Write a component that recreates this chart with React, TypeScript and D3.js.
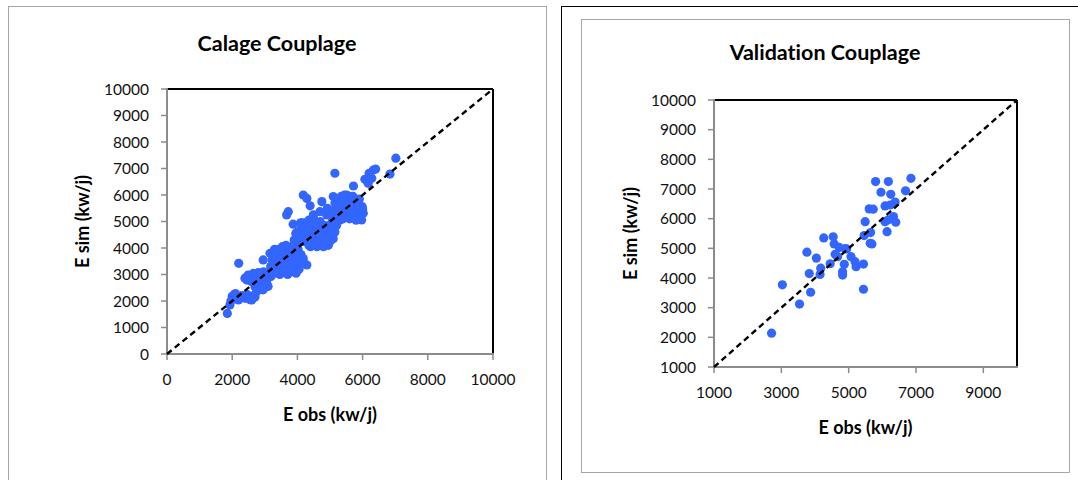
import React from 'react'
import * as d3 from 'd3'

// E obs / E sim pairs (kw/j)
const calagePoints: [number, number][] = [
  [1850, 1530], [1930, 1850], [1960, 2000], [2000, 2180], [2050, 2230], [2100, 2280], [2130, 2150],
  [2190, 2040], [2250, 2100], [2300, 2200], [2350, 2150], [2400, 2100], [2450, 2250], [2500, 2170],
  [2550, 2050], [2600, 2040], [2650, 2200], [2700, 2150], [2200, 3420],
  [2390, 2860], [2450, 2790], [2490, 2980], [2600, 2730], [2650, 3040], [2700, 2540], [2750, 2790],
  [2800, 3070], [2850, 2600], [2900, 2450], [2950, 2420], [2950, 3550], [2960, 3100], [3000, 2700],
  [3060, 2670], [3060, 2920], [3100, 2550], [3100, 3050], [2850, 2900], [2750, 2350],
  [3160, 3800], [3180, 3300], [3190, 2920], [3200, 3150], [3220, 3550], [3250, 3400], [3270, 3700],
  [3290, 3050], [3300, 3950], [3320, 3250], [3340, 3500], [3360, 3800], [3380, 3100], [3400, 3350],
  [3420, 3650], [3440, 3950], [3460, 3000], [3480, 3250], [3500, 3550], [3520, 3800], [3540, 4050],
  [3560, 3150], [3580, 3400], [3600, 3700], [3620, 3950], [3640, 3300], [3660, 3550], [3680, 3850],
  [3700, 3000], [3720, 3200], [3740, 3500], [3760, 3750], [3780, 4000], [3800, 3100], [3820, 3350],
  [3840, 3650], [3860, 3900], [3880, 4100], [3900, 3250], [3920, 3500], [3940, 3800], [3960, 3050],
  [3980, 3400], [4000, 3650], [4020, 3950], [4050, 3200], [4080, 3500], [4110, 3750], [4150, 3400],
  [4180, 3600], [4290, 3360], [3500, 3900], [3350, 3600], [3650, 4100], [3550, 3350], [3750, 3300],
  [3450, 3450], [3850, 3450], [3950, 3600], [3720, 5370], [3670, 5250], [3870, 4900],
  [3900, 4300], [3950, 4550], [4000, 4150], [4050, 4400], [4100, 4700], [4150, 4950], [4200, 4250],
  [4250, 4550], [4300, 4800], [4350, 4100], [4400, 4400], [4450, 4650], [4500, 4950], [4550, 4200],
  [4600, 4500], [4650, 4750], [4700, 5000], [4750, 4300], [4800, 4600], [4850, 4850], [4900, 4150],
  [4950, 4450], [5000, 4700], [5050, 4950], [5100, 4350], [5150, 4600], [5200, 4850], [4400, 4050],
  [4500, 4150], [4600, 4050], [4700, 4100], [4800, 4050], [4950, 4100], [4250, 4950], [4100, 4950],
  [4350, 5050], [4500, 5100], [4150, 4500], [4300, 4300], [4450, 4850], [4650, 4550], [4850, 4400],
  [5000, 4250], [5100, 4700], [4000, 4600], [4200, 4700], [4400, 4600], [4600, 4900], [4750, 4650],
  [4900, 5250], [4920, 5500], [5100, 5000], [5150, 5300], [5200, 5500], [5250, 5150], [5300, 5700],
  [5350, 5400], [5400, 5900], [5450, 5250], [5500, 5600], [5550, 5800], [5600, 5100], [5650, 5450],
  [5700, 5950], [5750, 5300], [5800, 5650], [5850, 5500], [5900, 5850], [5950, 5250], [6000, 5450],
  [5970, 5060], [6020, 5310], [5990, 5560], [5300, 5050], [5400, 5100], [5500, 5350], [5600, 5950],
  [5700, 5200], [5800, 5050], [5050, 5200], [5000, 5400], [5250, 5850], [5350, 5950], [5450, 6000],
  [5150, 5700], [5900, 5600], [5650, 5750], [5550, 5550], [5100, 5940], [5510, 6000],
  [7020, 7390], [6840, 6790], [6330, 6940], [6400, 6980], [6200, 6820], [6070, 6590], [6170, 6440],
  [6280, 6630], [5150, 6820], [5720, 6340], [4180, 6000], [4290, 5870], [4390, 5590], [4750, 5750],
  [4690, 5370], [4490, 5250],
]

// E obs / E sim pairs (kw/j)
const validationPoints: [number, number][] = [
  [2710, 2140], [3030, 3770], [3540, 3120], [3870, 3520], [3830, 4150], [4150, 4120], [4170, 4330],
  [3760, 4870], [4040, 4670], [4260, 5350], [4540, 5390], [4570, 5150], [4720, 5030], [4940, 4980],
  [4450, 4480], [4670, 4720], [4870, 4460], [4820, 4210], [4820, 4100], [5070, 4720], [5190, 4550],
  [5220, 4380], [5440, 4470], [5440, 3620], [5460, 5430], [5490, 5900], [5650, 5530], [5640, 5170],
  [5690, 5150], [5610, 6330], [5730, 6320], [5800, 7250], [5960, 6890], [6180, 7250], [6250, 6820],
  [6080, 6430], [6230, 6460], [6380, 6560], [6080, 5900], [6180, 5960], [6330, 6070], [6400, 5880],
  [6140, 5560], [6690, 6940], [6850, 7360], [4900, 4990], [4600, 4800],
]

const calageXTicks = [0, 2000, 4000, 6000, 8000, 10000]
const calageYTicks = [0, 1000, 2000, 3000, 4000, 5000, 6000, 7000, 8000, 9000, 10000]
const validationXTicks = [1000, 3000, 5000, 7000, 9000]
const validationYTicks = [1000, 2000, 3000, 4000, 5000, 6000, 7000, 8000, 9000, 10000]

const FONT = 'Lato, "Open Sans", sans-serif'
const DOT = '#3366ff'
const AXIS_GREY = '#8c8c8c'
const noLig = { fontVariantLigatures: 'none' as const }

type PanelProps = {
  title: string
  titleX: number
  titleY: number
  points: [number, number][]
  domain: [number, number]
  xTicks: number[]
  yTicks: number[]
  box: { x0: number; x1: number; y0: number; y1: number }
  yTitleX: number
}

function ScatterPanel(p: PanelProps) {
  const { box } = p
  const x = d3.scaleLinear().domain(p.domain).range([box.x0, box.x1])
  const y = d3.scaleLinear().domain(p.domain).range([box.y1, box.y0])
  const yMid = (box.y0 + box.y1) / 2

  return (
    <g>
      <text x={p.titleX} y={p.titleY} textAnchor="middle" fontFamily={FONT} fontWeight="bold" fontSize={21.5} style={noLig}>
        {p.title}
      </text>

      {/* frame: grey axes on left/bottom, black on top/right */}
      <line x1={box.x0} x2={box.x1} y1={box.y0} y2={box.y0} stroke="#000" strokeWidth={2} />
      <line x1={box.x1} x2={box.x1} y1={box.y0} y2={box.y1} stroke="#000" strokeWidth={2} />
      <line x1={box.x0} x2={box.x0} y1={box.y0 - 1} y2={box.y1} stroke={AXIS_GREY} strokeWidth={2} />
      <line x1={box.x0} x2={box.x1 + 1} y1={box.y1} y2={box.y1} stroke={AXIS_GREY} strokeWidth={2} />

      {p.yTicks.map(t => (
        <g key={'y' + t}>
          <line x1={box.x0 - 6} x2={box.x0} y1={y(t)} y2={y(t)} stroke={AXIS_GREY} strokeWidth={1.5} />
          <text x={box.x0 - 18} y={y(t)} dy="0.36em" textAnchor="end" fontFamily={FONT} fontSize={15.5} fill="#111">
            {t}
          </text>
        </g>
      ))}
      {p.xTicks.map(t => (
        <g key={'x' + t}>
          <line x1={x(t)} x2={x(t)} y1={box.y1} y2={box.y1 + 6} stroke={AXIS_GREY} strokeWidth={1.5} />
          <text x={x(t)} y={box.y1 + 31} textAnchor="middle" fontFamily={FONT} fontSize={15.5} fill="#111">
            {t}
          </text>
        </g>
      ))}

      {p.points.map((d, i) => (
        <circle key={i} cx={x(d[0])} cy={y(d[1])} r={4.6} fill={DOT} />
      ))}

      <line
        x1={x(p.domain[0])}
        y1={y(p.domain[0])}
        x2={x(p.domain[1])}
        y2={y(p.domain[1])}
        stroke="#000"
        strokeWidth={2.4}
        strokeDasharray="6,4"
      />

      <text x={(box.x0 + box.x1) / 2} y={box.y1 + 66.5} textAnchor="middle" fontFamily={FONT} fontWeight="bold" fontSize={18} style={noLig}>
        E obs (kw/j)
      </text>
      <text
        transform={`translate(${p.yTitleX},${yMid}) rotate(-90)`}
        textAnchor="middle"
        fontFamily={FONT}
        fontWeight="bold"
        fontSize={18}
        style={noLig}
      >
        E sim (kw/j)
      </text>
    </g>
  )
}

export default function App() {
  return (
    <svg width={1078} height={480} style={{ position: 'absolute', left: 0, top: 0, background: '#fff' }}>
      <rect x={0} y={0} width={1078} height={480} fill="#fff" />
      {/* panel borders */}
      <rect x={8.5} y={6.5} width={538} height={490} fill="none" stroke="#a6a6a6" />
      <rect x={561.5} y={6.5} width={530} height={490} fill="none" stroke="#000" />
      <rect x={581.5} y={19.5} width={488} height={453} fill="none" stroke="#a6a6a6" />

      <ScatterPanel
        title="Calage Couplage"
        titleX={277}
        titleY={51}
        points={calagePoints}
        domain={[0, 10000]}
        xTicks={calageXTicks}
        yTicks={calageYTicks}
        box={{ x0: 167, x1: 493, y0: 89, y1: 354 }}
        yTitleX={89}
      />
      <ScatterPanel
        title="Validation Couplage"
        titleX={825}
        titleY={60}
        points={validationPoints}
        domain={[1000, 10000]}
        xTicks={validationXTicks}
        yTicks={validationYTicks}
        box={{ x0: 714, x1: 1017, y0: 100, y1: 367 }}
        yTitleX={637}
      />
    </svg>
  )
}
